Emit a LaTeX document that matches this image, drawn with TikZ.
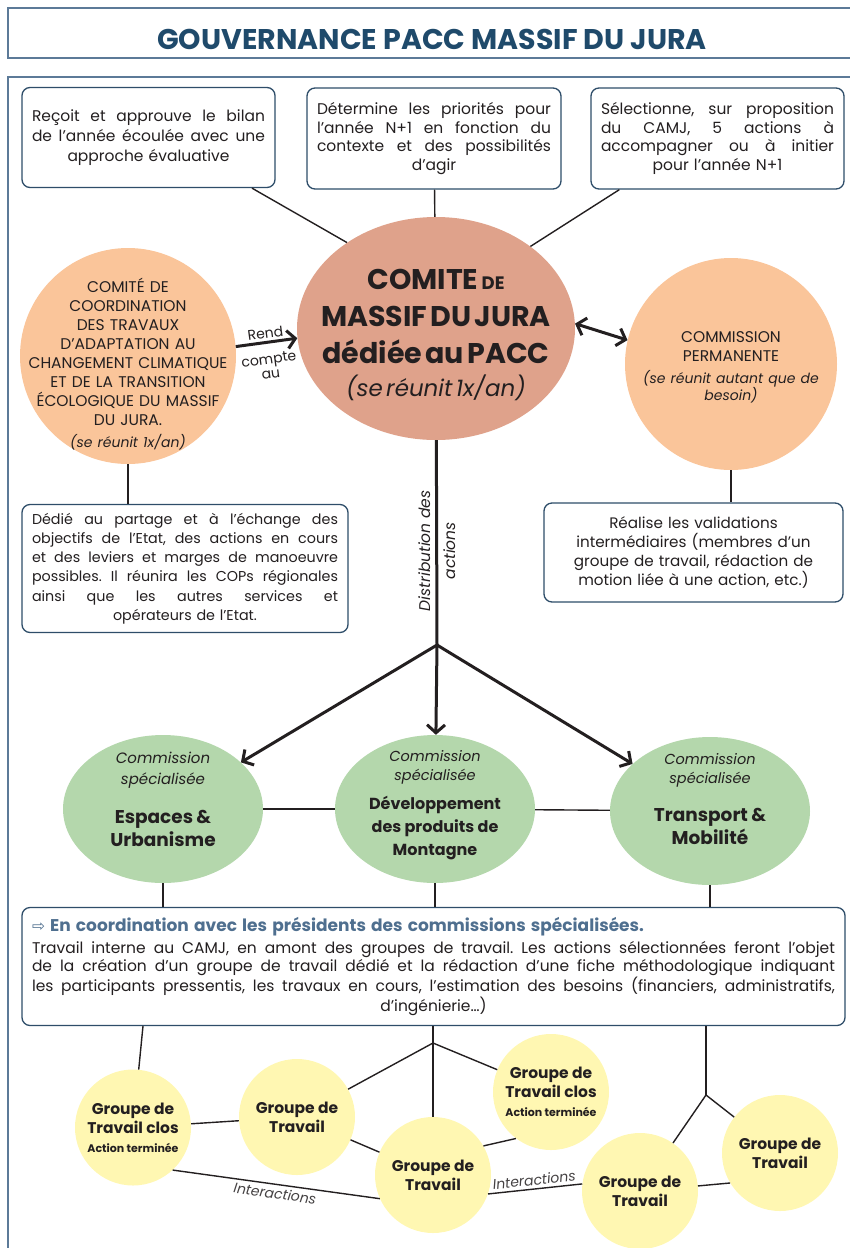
\documentclass[tikz,border=0pt]{standalone}
\usepackage{fontspec}
\setmainfont{Poppins}
\newfontfamily\symfont{DejaVu Sans}
\usetikzlibrary{shapes.geometric,arrows.meta,positioning}
\usepackage{xcolor}
\definecolor{titleblue}{HTML}{1F4A6B}
\definecolor{framegrey}{HTML}{5C7A98}
\definecolor{boxblue}{HTML}{2E4D69}
\definecolor{headblue}{HTML}{4F6F8F}
\definecolor{inkdark}{HTML}{231F20}
\definecolor{peach}{HTML}{FAC59A}
\definecolor{salmon}{HTML}{DFA28B}
\definecolor{sage}{HTML}{B4D7AC}
\definecolor{lemon}{HTML}{FFF7B2}
\frenchspacing
% one justified line of a box
\newcommand{\jline}[1]{\leavevmode\hbox to\hsize{\spaceskip=\fontdimen2\font plus 1fil minus 0.3\fontdimen2\font\relax #1}}

\begin{document}
\begin{tikzpicture}[x=1pt,y=-1pt,
	  every node/.style={align=center,text=inkdark,inner sep=0pt},
	  outerframe/.style={draw=framegrey,line width=2.5pt},
	  titlebox/.style={outerframe,minimum width=848,minimum height=50,text height=32pt,text depth=0pt,text=titleblue,font=\bfseries\fontsize{28.5}{32}\selectfont},
	  note/.style={draw=boxblue,line width=1.3pt,rounded corners=8pt,fill=white,inner xsep=10pt,font=\fontsize{15.5}{18.5}\selectfont},
	  comite/.style={ellipse,fill=salmon,minimum width=278,minimum height=223},
	  peachdisc/.style={circle,fill=peach,minimum size=#1},
	  csdisc/.style={ellipse,fill=sage,minimum width=200,minimum height=148},
	  gtdisc/.style={circle,fill=lemon,minimum size=116,font=\bfseries\fontsize{15.5}{19}\selectfont},
	  inside/.style={text width=#1,align=center},
	  link/.style={draw=inkdark,line width=1.4pt},
	  flow/.style={draw=inkdark,line width=3pt},
	  feed/.style={flow,-{Straight Barb[length=8pt,width=18pt]}},
	  twoway/.style={flow,{Straight Barb[length=8pt,width=18pt]}-{Straight Barb[length=8pt,width=18pt]}},
	  remark/.style={inner sep=2.5pt,font=\fontsize{14}{15}\selectfont},
	  interact/.style={inner sep=3pt,text=inkdark!85,font=\itshape\fontsize{14}{14}\selectfont}]

	  \useasboundingbox (0,0) rectangle (850,1248);

	  % Title and frame
	  \node[titlebox] (title) at (432,33) {GOUVERNANCE PACC MASSIF DU JURA};
	  \draw[outerframe] (8,77) rectangle (880,1280);

	  % Missions of the committee
	  \node[note,text width=233,minimum height=100,font=\fontsize{15.5}{20}\selectfont] (bilan) at (148.5,137.5) {\jline{Reçoit et approuve le bilan}\\\jline{de l’année écoulée avec une}\\approche évaluative};
	  \node[note,text width=234,minimum height=101] (priorites) at (434,138.5) {\jline{Détermine les priorités pour}\\\jline{l’année N+1 en fonction du}\\\jline{contexte et des possibilités}\\d’agir};
	  \node[note,text width=233,minimum height=101] (selection) at (717.5,138.5) {\jline{Sélectionne, sur proposition}\\\jline{du CAMJ, 5 actions à}\\\jline{accompagner ou à initier}\\pour l’année N+1};

	  % The three committees
	  \node[comite,label={[inside=275pt,yshift=-6pt]center:{{\bfseries\fontsize{28.5}{37}\selectfont COMITE {\fontsize{18}{37}\selectfont DE}\\MASSIF DU JURA\\dédiée au PACC\endgraf}{\itshape\fontsize{23}{33}\selectfont (se réunit 1x/an)\endgraf}}}] (camj) at (436,328.5) {};
	  \node[peachdisc=216,label={[inside=230pt,yshift=-8pt,font=\fontsize{15.5}{19.1}\selectfont]center:{COMITÉ DE\\COORDINATION\\DES TRAVAUX\\D’ADAPTATION AU\\CHANGEMENT CLIMATIQUE\\ET DE LA TRANSITION\\ÉCOLOGIQUE DU MASSIF\\DU JURA.\endgraf\vspace{5pt}{\itshape\fontsize{14}{17}\selectfont (se réunit 1x/an)\endgraf}}}] (coordination) at (128,356) {};
	  \node[peachdisc=212,label={[inside=205pt,yshift=-3pt,font=\fontsize{15.5}{19}\selectfont]center:{COMMISSION\\PERMANENTE\endgraf\vspace{5pt}{\itshape\fontsize{14}{17}\selectfont (se réunit autant que de\\besoin)\endgraf}}}] (permanente) at (731,364) {};

	  \node[note,text width=306,minimum height=128,font=\fontsize{14.3}{19.2}\selectfont] (partage) at (185,568.5) {\jline{Dédié au partage et à l’échange des}\\\jline{objectifs de l’Etat, des actions en cours}\\\jline{et des leviers et marges de manoeuvre}\\\jline{possibles. Il réunira les COPs régionales}\\\jline{ainsi que les autres services et}\\opérateurs de l’Etat.};
	  \node[note,text width=279,minimum height=99,font=\fontsize{15.2}{19}\selectfont] (validations) at (693.5,552.5) {Réalise les validations\\intermédiaires (membres d’un\\groupe de travail, rédaction de\\motion liée à une action, etc.)};

	  % Specialised commissions
	  \node[csdisc,label={[inside=195pt,yshift=9.5pt]center:{{\itshape\fontsize{15}{21}\selectfont Commission\\spécialisée\endgraf}\vspace{16pt}{\bfseries\fontsize{18.5}{23}\selectfont Espaces \&\\Urbanisme\endgraf}}}] (espaces) at (163,809) {};
	  \node[csdisc,label={[inside=195pt,yshift=4pt]center:{{\itshape\fontsize{14.5}{19}\selectfont Commission\\spécialisée\endgraf}\vspace{6pt}{\bfseries\fontsize{16}{23}\selectfont Développement\\des produits de\\Montagne\endgraf}}}] (montagne) at (435,809) {};
	  \node[csdisc,label={[inside=195pt,yshift=12pt]center:{{\itshape\fontsize{14.5}{19}\selectfont Commission\\spécialisée\endgraf}\vspace{15pt}{\bfseries\fontsize{18.5}{23}\selectfont Transport \&\\Mobilité\endgraf}}}] (transport) at (710,811) {};

	  \node[note,text width=803,minimum height=118,font=\fontsize{15.5}{18}\selectfont] (amont) at (433.5,966.5) {\leavevmode\hbox to\hsize{\textcolor{headblue}{{\symfont ⇨} \bfseries\fontsize{17}{18}\selectfont En coordination avec les présidents des commissions spécialisées.}\hfil}\\[4pt]\jline{Travail interne au CAMJ, en amont des groupes de travail. Les actions sélectionnées feront l’objet}\\\jline{de la création d’un groupe de travail dédié et la rédaction d’une fiche méthodologique indiquant}\\\jline{les participants pressentis, les travaux en cours, l’estimation des besoins (financiers, administratifs,}\\d’ingénierie…)};

	  % Working groups
	  \node[gtdisc] (gtclosA) at (133,1127.5) {Groupe de\\Travail clos\\{\fontsize{11}{14}\selectfont Action terminée}};
	  \node[gtdisc] (gtA) at (297,1117) {Groupe de\\Travail};
	  \node[gtdisc] (gtB) at (433,1175) {Groupe de\\Travail};
	  \node[gtdisc] (gtclosB) at (551,1092) {Groupe de\\Travail clos\\{\fontsize{11}{14}\selectfont Action terminée}};
	  \node[gtdisc] (gtC) at (640,1191) {Groupe de\\Travail};
	  \node[gtdisc] (gtD) at (780,1153) {Groupe de\\Travail};

	  \coordinate (branch) at (437,645);
	  \coordinate (tapA) at (143,1026);
	  \coordinate (hubB) at (433,1043);
	  \coordinate (hubC) at (706,1095);

	  \draw[link] ([xshift=103.5pt]bilan.south) -- (camj.136);
	  \draw[link] (priorites) -- (camj);
	  \draw[link] ([xshift=29pt]selection.south west) -- (camj.41);
	  \draw[feed] (coordination.5) -- node[remark,above,sloped] (rend) {Rend} node[remark,below=8pt,sloped] (compte) {compte\\au} (camj.184);
	  \draw[twoway] (camj.2) -- (permanente.167);
	  \draw[link] (coordination.south) -- (coordination.south |- partage.north);
	  \draw[link] (permanente.south) -- (permanente.south |- validations.north);

	  \draw[flow] (camj) -- node[pos=0.54,rotate=90,font=\itshape\fontsize{15.5}{25}\selectfont] (distrib) {Distribution des\\actions} (branch);
	  \draw[feed] (branch) -- (espaces);
	  \draw[feed] (branch) -- (montagne);
	  \draw[feed] (branch) -- (transport);

	  \draw[link] (espaces) -- (montagne);
	  \draw[link] (montagne) -- (transport);
	  \draw[link] (espaces.south) -- (espaces.south |- amont.north);
	  \draw[link] (montagne.south) -- (montagne.south |- amont.north);
	  \draw[link] (transport.south) -- (transport.south |- amont.north);

	  \draw[link] (tapA) -- (gtclosA);
	  \draw[link] (amont.south -| hubB) -- (hubB);
	  \draw[link] (hubB) -- (gtA);
	  \draw[link] (hubB) -- (gtB);
	  \draw[link] (hubB) -- (gtclosB);
	  \draw[link] (amont.south -| hubC) -- (hubC);
	  \draw[link] (hubC) -- (gtC);
	  \draw[link] (hubC) -- (gtD);

	  \draw[link] (gtclosA) -- (gtA);
	  \draw[link] (gtA) -- (gtB);
	  \draw[link] (gtB.30) -- (gtclosB.233);
	  \draw[link] (gtC.5) -- (gtD.211);
	  \draw[link] (gtclosA.-47) -- node[interact,below,sloped] (interA) {Interactions} (gtB.204);
	  \draw[link] (gtB.-19) -- node[interact,above,sloped] (interB) {Interactions} (gtC.173);
\end{tikzpicture}
\end{document}
